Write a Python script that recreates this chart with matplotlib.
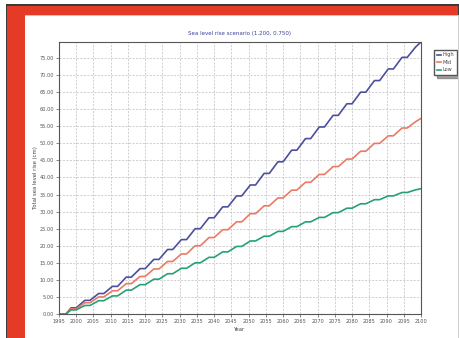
import matplotlib
matplotlib.use('Agg')
import matplotlib.pyplot as plt
from matplotlib.patches import Rectangle

# knot years: a short flat stretch, then a rise, every four years
years = [1995, 1997]
for yr in range(2000, 2101, 4):
    years += [yr - 1.5, yr]

high = [0.0, 0.0,
        1.8, 1.8, 4.0, 4.0, 6.0, 6.0, 8.1, 8.1, 10.8, 10.8, 13.3, 13.3,
        16.0, 16.0, 18.9, 18.9, 21.8, 21.8, 25.0, 25.0, 28.2, 28.2,
        31.4, 31.4, 34.6, 34.6, 37.8, 37.8, 41.2, 41.2, 44.6, 44.6,
        48.0, 48.0, 51.4, 51.4, 54.8, 54.8, 58.2, 58.2, 61.6, 61.6,
        65.0, 65.0, 68.4, 68.4, 71.8, 71.8, 75.2, 75.2, 78.3, 79.7]

mid = [0.0, 0.0,
       1.5, 1.5, 3.3, 3.3, 5.0, 5.0, 6.8, 6.8, 8.9, 8.9, 11.0, 11.0,
       13.2, 13.2, 15.4, 15.4, 17.6, 17.6, 20.0, 20.0, 22.4, 22.4,
       24.7, 24.7, 27.0, 27.0, 29.4, 29.4, 31.7, 31.7, 34.0, 34.0,
       36.3, 36.3, 38.6, 38.6, 40.9, 40.9, 43.2, 43.2, 45.4, 45.4,
       47.7, 47.7, 50.0, 50.0, 52.2, 52.2, 54.5, 54.5, 56.4, 57.3]

low = [0.0, 0.0,
       1.2, 1.2, 2.5, 2.5, 3.9, 3.9, 5.3, 5.3, 7.0, 7.0, 8.6, 8.6,
       10.2, 10.2, 11.8, 11.8, 13.4, 13.4, 15.0, 15.0, 16.6, 16.6,
       18.2, 18.2, 19.8, 19.8, 21.4, 21.4, 22.8, 22.8, 24.2, 24.2,
       25.6, 25.6, 27.0, 27.0, 28.3, 28.3, 29.7, 29.7, 31.0, 31.0,
       32.3, 32.3, 33.5, 33.5, 34.6, 34.6, 35.6, 35.6, 36.4, 36.7]

series_names = ['High', 'Mid', 'Low']
series_colors = ['#4b4f9c', '#ec7a63', '#25a273']
x_ticks = list(range(1995, 2101, 5))
y_ticks = list(range(0, 80, 5))

W, H = 460, 338
fig = plt.figure(figsize=(W / 100, H / 100), dpi=100)
fig.patch.set_facecolor('white')


def px_rect(x0, y0, x1, y1, color, z=0):
    fig.patches.append(Rectangle((x0 / W, 1 - y1 / H), (x1 - x0) / W, (y1 - y0) / H,
                                 transform=fig.transFigure, facecolor=color,
                                 edgecolor='none', zorder=z))


# red frame around the figure panel
px_rect(7, 5, 460, 15, '#e53b26')
px_rect(7, 5, 25, 338, '#e53b26')
px_rect(6, 4, 460, 5.5, '#3a3a3a')
px_rect(6, 4, 7.5, 338, '#3a3a3a')
px_rect(458.5, 4, 460, 15, '#3a3a3a')
px_rect(25, 15, 460, 16, '#c8c8c8')
px_rect(458, 16, 459, 338, '#d0d0d0')

ax = fig.add_axes([59 / W, 1 - 314 / H, (421 - 59) / W, (314 - 42) / H])
for name, vals, c in zip(series_names, [high, mid, low], series_colors):
    ax.plot(years, vals, color=c, lw=1.2, label=name)

ax.set_xlim(1995, 2100)
ax.set_ylim(0, max(high))
ax.set_xticks(x_ticks)
ax.set_yticks(y_ticks)
ax.set_xticklabels([str(v) for v in x_ticks])
ax.set_yticklabels([f'{v:.2f}' for v in y_ticks])
ax.tick_params(labelsize=3.6, colors='#555555', length=2, width=0.5, pad=1.5)
ax.grid(True, color='#bdbdbd', lw=0.5, ls=(0, (3, 2)))
for s in ax.spines.values():
    s.set_color('#555555')
    s.set_linewidth(0.8)

ax.set_title('Sea level rise scenario (1.200, 0.750)', fontsize=4, color='#3b3f9a', pad=5)
ax.set_xlabel('Year', fontsize=3.8, color='#444444', labelpad=2)
ax.set_ylabel('Total sea level rise (cm)', fontsize=3.8, color='#444444', labelpad=1)

leg = ax.legend(loc='upper left', bbox_to_anchor=(1.03, 0.98), fontsize=3.6,
                handlelength=0.8, handletextpad=0.4, borderpad=0.5,
                labelspacing=0.5, fancybox=False, shadow=True,
                edgecolor='#555555', framealpha=1)
for t in leg.get_texts():
    t.set_color('#444444')

fig.savefig('out.png', dpi=100)
